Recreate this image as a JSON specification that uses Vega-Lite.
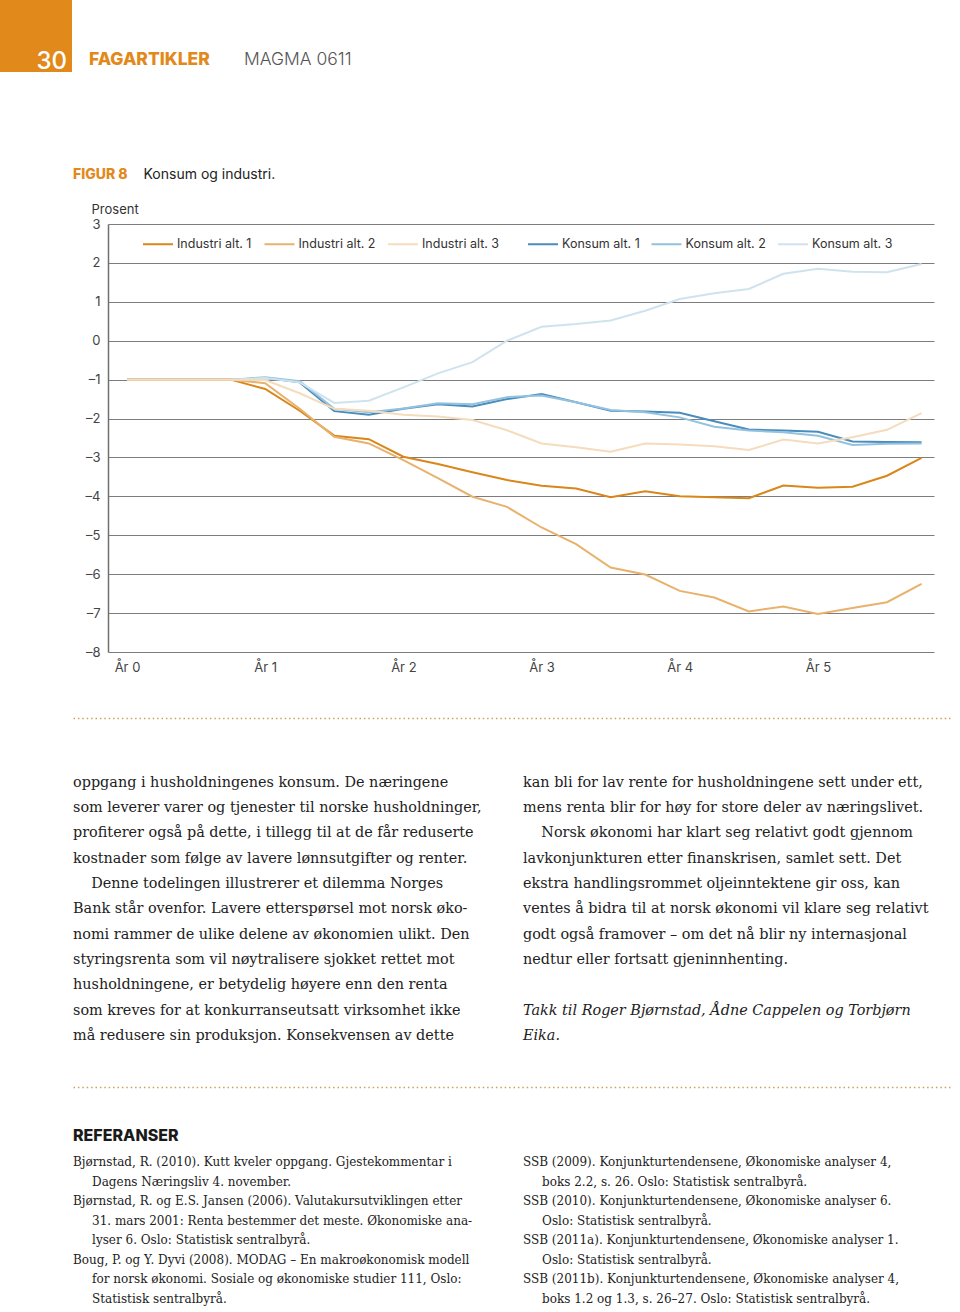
{
  "$schema": "https://vega.github.io/schema/vega-lite/v6.json",
  "padding": 0,
  "background": "white",
  "columns": 1,
  "align": "none",
  "spacing": 0,
  "bounds": "full",
  "config": {"view": {"stroke": null}, "font": "Inter", "concat": {"spacing": 0}},
  "concat": [
    {
      "spacing": 0,
      "hconcat": [
        {
          "width": 72, "height": 72,
          "view": {"fill": "#e2891b", "stroke": null},
          "data": {"values": [{"t": "30"}]},
          "mark": {"type": "text", "align": "center", "baseline": "middle", "dx": 15.7, "dy": 25.7, "font": "Inter", "fontSize": 24, "fontWeight": 500, "color": "#ffffff"},
          "encoding": {"text": {"field": "t"}}
        },
        {
          "width": 888, "height": 167,
          "data": {"values": [{"t": "FAGARTIKLER"}, {"t": "MAGMA 0611"}]},
          "encoding": {
            "x": {"field": "t", "type": "nominal", "scale": {"type": "point", "padding": 0, "domain": ["FAGARTIKLER", "MAGMA 0611"], "range": [17, 172]}, "axis": null},
            "text": {"field": "t"}
          },
          "layer": [
            {"transform": [{"filter": "datum.t == 'FAGARTIKLER'"}], "mark": {"type": "text", "align": "left", "baseline": "middle", "dy": -23.5, "font": "Inter", "fontSize": 17.5, "fontWeight": 800, "color": "#e2891b"}},
            {"transform": [{"filter": "datum.t == 'MAGMA 0611'"}], "mark": {"type": "text", "align": "left", "baseline": "middle", "dy": -23.5, "font": "Inter", "fontSize": 17.5, "fontWeight": 300, "color": "#555555"}}
          ]
        }
      ]
    },
    {
      "spacing": 0,
      "hconcat": [
        {"width": 1, "height": 1, "data": {"values": [{"s": 0}]}, "mark": {"type": "rect", "opacity": 0}, "encoding": {}},
        {
          "width": 826, "height": 428,
          "title": {"text": "FIGUR 8", "anchor": "start", "frame": "group", "dx": -35, "offset": -28.7, "baseline": "bottom", "color": "#e2891b", "font": "Inter", "fontSize": 14, "fontWeight": 800},
          "data": {"values": [
            {"serie": "Industri alt. 1", "aar": 0, "verdi": -1}, {"serie": "Industri alt. 1", "aar": 0.25, "verdi": -1}, {"serie": "Industri alt. 1", "aar": 0.5, "verdi": -1}, {"serie": "Industri alt. 1", "aar": 0.75, "verdi": -1},
            {"serie": "Industri alt. 1", "aar": 1, "verdi": -1.24}, {"serie": "Industri alt. 1", "aar": 1.25, "verdi": -1.8}, {"serie": "Industri alt. 1", "aar": 1.5, "verdi": -2.44}, {"serie": "Industri alt. 1", "aar": 1.75, "verdi": -2.53},
            {"serie": "Industri alt. 1", "aar": 2, "verdi": -2.98}, {"serie": "Industri alt. 1", "aar": 2.25, "verdi": -3.17}, {"serie": "Industri alt. 1", "aar": 2.5, "verdi": -3.38}, {"serie": "Industri alt. 1", "aar": 2.75, "verdi": -3.58},
            {"serie": "Industri alt. 1", "aar": 3, "verdi": -3.73}, {"serie": "Industri alt. 1", "aar": 3.25, "verdi": -3.8}, {"serie": "Industri alt. 1", "aar": 3.5, "verdi": -4.02}, {"serie": "Industri alt. 1", "aar": 3.75, "verdi": -3.87},
            {"serie": "Industri alt. 1", "aar": 4, "verdi": -4.0}, {"serie": "Industri alt. 1", "aar": 4.25, "verdi": -4.02}, {"serie": "Industri alt. 1", "aar": 4.5, "verdi": -4.05}, {"serie": "Industri alt. 1", "aar": 4.75, "verdi": -3.72},
            {"serie": "Industri alt. 1", "aar": 5, "verdi": -3.78}, {"serie": "Industri alt. 1", "aar": 5.25, "verdi": -3.75}, {"serie": "Industri alt. 1", "aar": 5.5, "verdi": -3.47}, {"serie": "Industri alt. 1", "aar": 5.75, "verdi": -3.01},

            {"serie": "Industri alt. 2", "aar": 0, "verdi": -1}, {"serie": "Industri alt. 2", "aar": 0.25, "verdi": -1}, {"serie": "Industri alt. 2", "aar": 0.5, "verdi": -1}, {"serie": "Industri alt. 2", "aar": 0.75, "verdi": -1},
            {"serie": "Industri alt. 2", "aar": 1, "verdi": -1.09}, {"serie": "Industri alt. 2", "aar": 1.25, "verdi": -1.75}, {"serie": "Industri alt. 2", "aar": 1.5, "verdi": -2.47}, {"serie": "Industri alt. 2", "aar": 1.75, "verdi": -2.64},
            {"serie": "Industri alt. 2", "aar": 2, "verdi": -3.07}, {"serie": "Industri alt. 2", "aar": 2.25, "verdi": -3.53}, {"serie": "Industri alt. 2", "aar": 2.5, "verdi": -4.01}, {"serie": "Industri alt. 2", "aar": 2.75, "verdi": -4.27},
            {"serie": "Industri alt. 2", "aar": 3, "verdi": -4.8}, {"serie": "Industri alt. 2", "aar": 3.25, "verdi": -5.23}, {"serie": "Industri alt. 2", "aar": 3.5, "verdi": -5.83}, {"serie": "Industri alt. 2", "aar": 3.75, "verdi": -6.01},
            {"serie": "Industri alt. 2", "aar": 4, "verdi": -6.43}, {"serie": "Industri alt. 2", "aar": 4.25, "verdi": -6.6}, {"serie": "Industri alt. 2", "aar": 4.5, "verdi": -6.96}, {"serie": "Industri alt. 2", "aar": 4.75, "verdi": -6.83},
            {"serie": "Industri alt. 2", "aar": 5, "verdi": -7.02}, {"serie": "Industri alt. 2", "aar": 5.25, "verdi": -6.87}, {"serie": "Industri alt. 2", "aar": 5.5, "verdi": -6.72}, {"serie": "Industri alt. 2", "aar": 5.75, "verdi": -6.25},

            {"serie": "Industri alt. 3", "aar": 0, "verdi": -1}, {"serie": "Industri alt. 3", "aar": 0.25, "verdi": -1}, {"serie": "Industri alt. 3", "aar": 0.5, "verdi": -1}, {"serie": "Industri alt. 3", "aar": 0.75, "verdi": -1},
            {"serie": "Industri alt. 3", "aar": 1, "verdi": -1.01}, {"serie": "Industri alt. 3", "aar": 1.25, "verdi": -1.35}, {"serie": "Industri alt. 3", "aar": 1.5, "verdi": -1.75}, {"serie": "Industri alt. 3", "aar": 1.75, "verdi": -1.8},
            {"serie": "Industri alt. 3", "aar": 2, "verdi": -1.9}, {"serie": "Industri alt. 3", "aar": 2.25, "verdi": -1.95}, {"serie": "Industri alt. 3", "aar": 2.5, "verdi": -2.04}, {"serie": "Industri alt. 3", "aar": 2.75, "verdi": -2.3},
            {"serie": "Industri alt. 3", "aar": 3, "verdi": -2.64}, {"serie": "Industri alt. 3", "aar": 3.25, "verdi": -2.74}, {"serie": "Industri alt. 3", "aar": 3.5, "verdi": -2.85}, {"serie": "Industri alt. 3", "aar": 3.75, "verdi": -2.64},
            {"serie": "Industri alt. 3", "aar": 4, "verdi": -2.67}, {"serie": "Industri alt. 3", "aar": 4.25, "verdi": -2.71}, {"serie": "Industri alt. 3", "aar": 4.5, "verdi": -2.81}, {"serie": "Industri alt. 3", "aar": 4.75, "verdi": -2.54},
            {"serie": "Industri alt. 3", "aar": 5, "verdi": -2.64}, {"serie": "Industri alt. 3", "aar": 5.25, "verdi": -2.48}, {"serie": "Industri alt. 3", "aar": 5.5, "verdi": -2.29}, {"serie": "Industri alt. 3", "aar": 5.75, "verdi": -1.86},

            {"serie": "Konsum alt. 1", "aar": 0, "verdi": -1}, {"serie": "Konsum alt. 1", "aar": 0.25, "verdi": -1}, {"serie": "Konsum alt. 1", "aar": 0.5, "verdi": -1}, {"serie": "Konsum alt. 1", "aar": 0.75, "verdi": -1},
            {"serie": "Konsum alt. 1", "aar": 1, "verdi": -0.96}, {"serie": "Konsum alt. 1", "aar": 1.25, "verdi": -1.07}, {"serie": "Konsum alt. 1", "aar": 1.5, "verdi": -1.81}, {"serie": "Konsum alt. 1", "aar": 1.75, "verdi": -1.9},
            {"serie": "Konsum alt. 1", "aar": 2, "verdi": -1.75}, {"serie": "Konsum alt. 1", "aar": 2.25, "verdi": -1.63}, {"serie": "Konsum alt. 1", "aar": 2.5, "verdi": -1.69}, {"serie": "Konsum alt. 1", "aar": 2.75, "verdi": -1.5},
            {"serie": "Konsum alt. 1", "aar": 3, "verdi": -1.37}, {"serie": "Konsum alt. 1", "aar": 3.25, "verdi": -1.58}, {"serie": "Konsum alt. 1", "aar": 3.5, "verdi": -1.8}, {"serie": "Konsum alt. 1", "aar": 3.75, "verdi": -1.82},
            {"serie": "Konsum alt. 1", "aar": 4, "verdi": -1.85}, {"serie": "Konsum alt. 1", "aar": 4.25, "verdi": -2.07}, {"serie": "Konsum alt. 1", "aar": 4.5, "verdi": -2.28}, {"serie": "Konsum alt. 1", "aar": 4.75, "verdi": -2.31},
            {"serie": "Konsum alt. 1", "aar": 5, "verdi": -2.34}, {"serie": "Konsum alt. 1", "aar": 5.25, "verdi": -2.59}, {"serie": "Konsum alt. 1", "aar": 5.5, "verdi": -2.6}, {"serie": "Konsum alt. 1", "aar": 5.75, "verdi": -2.61},

            {"serie": "Konsum alt. 2", "aar": 0, "verdi": -1}, {"serie": "Konsum alt. 2", "aar": 0.25, "verdi": -1}, {"serie": "Konsum alt. 2", "aar": 0.5, "verdi": -1}, {"serie": "Konsum alt. 2", "aar": 0.75, "verdi": -1},
            {"serie": "Konsum alt. 2", "aar": 1, "verdi": -0.94}, {"serie": "Konsum alt. 2", "aar": 1.25, "verdi": -1.04}, {"serie": "Konsum alt. 2", "aar": 1.5, "verdi": -1.75}, {"serie": "Konsum alt. 2", "aar": 1.75, "verdi": -1.84},
            {"serie": "Konsum alt. 2", "aar": 2, "verdi": -1.74}, {"serie": "Konsum alt. 2", "aar": 2.25, "verdi": -1.61}, {"serie": "Konsum alt. 2", "aar": 2.5, "verdi": -1.63}, {"serie": "Konsum alt. 2", "aar": 2.75, "verdi": -1.45},
            {"serie": "Konsum alt. 2", "aar": 3, "verdi": -1.41}, {"serie": "Konsum alt. 2", "aar": 3.25, "verdi": -1.58}, {"serie": "Konsum alt. 2", "aar": 3.5, "verdi": -1.78}, {"serie": "Konsum alt. 2", "aar": 3.75, "verdi": -1.84},
            {"serie": "Konsum alt. 2", "aar": 4, "verdi": -1.97}, {"serie": "Konsum alt. 2", "aar": 4.25, "verdi": -2.21}, {"serie": "Konsum alt. 2", "aar": 4.5, "verdi": -2.31}, {"serie": "Konsum alt. 2", "aar": 4.75, "verdi": -2.35},
            {"serie": "Konsum alt. 2", "aar": 5, "verdi": -2.44}, {"serie": "Konsum alt. 2", "aar": 5.25, "verdi": -2.68}, {"serie": "Konsum alt. 2", "aar": 5.5, "verdi": -2.65}, {"serie": "Konsum alt. 2", "aar": 5.75, "verdi": -2.64},

            {"serie": "Konsum alt. 3", "aar": 0, "verdi": -1}, {"serie": "Konsum alt. 3", "aar": 0.25, "verdi": -1}, {"serie": "Konsum alt. 3", "aar": 0.5, "verdi": -1}, {"serie": "Konsum alt. 3", "aar": 0.75, "verdi": -1},
            {"serie": "Konsum alt. 3", "aar": 1, "verdi": -0.96}, {"serie": "Konsum alt. 3", "aar": 1.25, "verdi": -1.07}, {"serie": "Konsum alt. 3", "aar": 1.5, "verdi": -1.6}, {"serie": "Konsum alt. 3", "aar": 1.75, "verdi": -1.54},
            {"serie": "Konsum alt. 3", "aar": 2, "verdi": -1.2}, {"serie": "Konsum alt. 3", "aar": 2.25, "verdi": -0.84}, {"serie": "Konsum alt. 3", "aar": 2.5, "verdi": -0.55}, {"serie": "Konsum alt. 3", "aar": 2.75, "verdi": 0},
            {"serie": "Konsum alt. 3", "aar": 3, "verdi": 0.36}, {"serie": "Konsum alt. 3", "aar": 3.25, "verdi": 0.43}, {"serie": "Konsum alt. 3", "aar": 3.5, "verdi": 0.52}, {"serie": "Konsum alt. 3", "aar": 3.75, "verdi": 0.77},
            {"serie": "Konsum alt. 3", "aar": 4, "verdi": 1.07}, {"serie": "Konsum alt. 3", "aar": 4.25, "verdi": 1.22}, {"serie": "Konsum alt. 3", "aar": 4.5, "verdi": 1.33}, {"serie": "Konsum alt. 3", "aar": 4.75, "verdi": 1.72},
            {"serie": "Konsum alt. 3", "aar": 5, "verdi": 1.85}, {"serie": "Konsum alt. 3", "aar": 5.25, "verdi": 1.77}, {"serie": "Konsum alt. 3", "aar": 5.5, "verdi": 1.76}, {"serie": "Konsum alt. 3", "aar": 5.75, "verdi": 1.97}
          ]},
          "encoding": {
            "x": {
              "field": "aar", "type": "quantitative",
              "scale": {"domain": [-0.1375, 5.84], "nice": false, "zero": false},
              "axis": {
                "values": [0, 1, 2, 3, 4, 5], "labelExpr": "'År ' + datum.value", "labelFlush": false,
                "grid": false, "domain": false, "ticks": false, "labelPadding": 9,
                "labelFont": "Inter", "labelFontSize": 13, "labelColor": "#444444",
                "title": "Konsum og industri.", "titleX": 35, "titleY": -477.3, "titleAlign": "left", "titleBaseline": "middle",
                "titleFont": "Inter", "titleFontSize": 14, "titleFontWeight": "normal", "titleColor": "#222222",
                "minExtent": 66, "maxExtent": 66
              }
            },
            "y": {
              "field": "verdi", "type": "quantitative",
              "scale": {"domain": [-8, 3], "nice": false, "zero": false},
              "axis": {
                "values": [-8, -7, -6, -5, -4, -3, -2, -1, 0, 1, 2, 3],
                "labelExpr": "datum.value < 0 ? '–' + abs(datum.value) : '' + datum.value",
                "grid": true, "gridColor": "#7d7d7d", "gridWidth": 1.1,
                "domain": true, "domainColor": "#6f6f6f", "domainWidth": 1.5,
                "ticks": false, "labelPadding": 8, "labelFont": "Inter", "labelFontSize": 13, "labelColor": "#444444",
                "title": "Prosent", "titleAngle": 0, "titleAlign": "left", "titleBaseline": "middle", "titleX": -17, "titleY": -15,
                "titleFont": "Inter", "titleFontSize": 13, "titleFontWeight": "normal", "titleColor": "#333333",
                "minExtent": 107, "maxExtent": 107
              }
            }
          },
          "layer": [
            {
              "transform": [{"filter": "indexof(datum.serie, 'Konsum') == 0"}],
              "mark": {"type": "line", "strokeWidth": 2},
              "encoding": {
                "color": {
                  "field": "serie", "type": "nominal",
                  "scale": {"domain": ["Konsum alt. 1", "Konsum alt. 2", "Konsum alt. 3"], "range": ["#4a8dbd", "#93c2de", "#cfe3ef"]},
                  "legend": {"orient": "none", "legendX": 419, "legendY": 4, "direction": "horizontal", "title": null, "symbolType": "stroke", "symbolSize": 900, "symbolStrokeWidth": 2, "labelFont": "Inter", "labelFontSize": 12.5, "labelColor": "#333333", "labelOffset": 3, "columnPadding": 7.5, "padding": 0}
                }
              }
            },
            {
              "transform": [{"filter": "indexof(datum.serie, 'Industri') == 0"}],
              "mark": {"type": "line", "strokeWidth": 2},
              "encoding": {
                "color": {
                  "field": "serie", "type": "nominal",
                  "scale": {"domain": ["Industri alt. 3", "Industri alt. 2", "Industri alt. 1"], "range": ["#f4dcbc", "#e8b26c", "#d9861a"]},
                  "legend": {"orient": "none", "legendX": 34, "legendY": 4, "direction": "horizontal", "title": null, "symbolType": "stroke", "symbolSize": 900, "symbolStrokeWidth": 2, "labelFont": "Inter", "labelFontSize": 12.5, "labelColor": "#333333", "labelOffset": 3, "columnPadding": 8.5, "padding": 0, "values": ["Industri alt. 1", "Industri alt. 2", "Industri alt. 3"]}
                }
              }
            }
          ],
          "resolve": {"scale": {"color": "independent"}}
        }
      ]
    },
    {
      "spacing": 0,
      "hconcat": [
        {"width": 1, "height": 1, "data": {"values": [{"s": 0}]}, "mark": {"type": "rect", "opacity": 0}, "encoding": {}},
        {
          "width": 877, "height": 369,
          "data": {"values": [
            {"kol": 0, "linje": 1, "del": "brødtekst", "tekst": "oppgang i husholdningenes konsum. De næringene"},
            {"kol": 0, "linje": 2, "del": "brødtekst", "tekst": "som leverer varer og tjenester til norske husholdninger,"},
            {"kol": 0, "linje": 3, "del": "brødtekst", "tekst": "profiterer også på dette, i tillegg til at de får reduserte"},
            {"kol": 0, "linje": 4, "del": "brødtekst", "tekst": "kostnader som følge av lavere lønnsutgifter og renter."},
            {"kol": 0, "linje": 5, "del": "brødtekst", "tekst": "\u200b\u00a0\u00a0\u00a0\u00a0Denne todelingen illustrerer et dilemma Norges"},
            {"kol": 0, "linje": 6, "del": "brødtekst", "tekst": "Bank står ovenfor. Lavere etterspørsel mot norsk øko-"},
            {"kol": 0, "linje": 7, "del": "brødtekst", "tekst": "nomi rammer de ulike delene av økonomien ulikt. Den"},
            {"kol": 0, "linje": 8, "del": "brødtekst", "tekst": "styringsrenta som vil nøytralisere sjokket rettet mot"},
            {"kol": 0, "linje": 9, "del": "brødtekst", "tekst": "husholdningene, er betydelig høyere enn den renta"},
            {"kol": 0, "linje": 10, "del": "brødtekst", "tekst": "som kreves for at konkurranseutsatt virksomhet ikke"},
            {"kol": 0, "linje": 11, "del": "brødtekst", "tekst": "må redusere sin produksjon. Konsekvensen av dette"},
            {"kol": 1, "linje": 1, "del": "brødtekst", "tekst": "kan bli for lav rente for husholdningene sett under ett,"},
            {"kol": 1, "linje": 2, "del": "brødtekst", "tekst": "mens renta blir for høy for store deler av næringslivet."},
            {"kol": 1, "linje": 3, "del": "brødtekst", "tekst": "\u200b\u00a0\u00a0\u00a0\u00a0Norsk økonomi har klart seg relativt godt gjennom"},
            {"kol": 1, "linje": 4, "del": "brødtekst", "tekst": "lavkonjunkturen etter finanskrisen, samlet sett. Det"},
            {"kol": 1, "linje": 5, "del": "brødtekst", "tekst": "ekstra handlingsrommet oljeinntektene gir oss, kan"},
            {"kol": 1, "linje": 6, "del": "brødtekst", "tekst": "ventes å bidra til at norsk økonomi vil klare seg relativt"},
            {"kol": 1, "linje": 7, "del": "brødtekst", "tekst": "godt også framover – om det nå blir ny internasjonal"},
            {"kol": 1, "linje": 8, "del": "brødtekst", "tekst": "nedtur eller fortsatt gjeninnhenting."},
            {"kol": 1, "linje": 10, "del": "takk", "tekst": "Takk til Roger Bjørnstad, Ådne Cappelen og Torbjørn"},
            {"kol": 1, "linje": 11, "del": "takk", "tekst": "Eika."}
          ]},
          "encoding": {
            "x": {"field": "kol", "type": "quantitative", "scale": {"domain": [0, 1.9489], "nice": false, "zero": false},
                  "axis": {"orient": "top", "domain": true, "domainDash": [1.5, 2.9], "domainColor": "#c9a25a", "domainWidth": 1.6, "labels": false, "ticks": false, "grid": false, "title": null}},
            "y": {"field": "linje", "type": "quantitative", "scale": {"domain": [-1.565, 13.02], "reverse": true, "nice": false, "zero": false},
                  "axis": {"labels": false, "ticks": false, "domain": false, "grid": false, "title": null, "minExtent": 72, "maxExtent": 72}},
            "text": {"field": "tekst"}
          },
          "layer": [
            {"transform": [{"filter": "datum.del == 'brødtekst'"}], "mark": {"type": "text", "align": "left", "baseline": "middle", "font": "DejaVu Serif", "fontSize": 14.4, "color": "#222222"}},
            {"transform": [{"filter": "datum.del == 'takk'"}], "mark": {"type": "text", "align": "left", "baseline": "middle", "font": "DejaVu Serif", "fontSize": 14.4, "fontStyle": "italic", "color": "#222222"}}
          ]
        }
      ]
    },
    {
      "spacing": 0,
      "hconcat": [
        {"width": 1, "height": 1, "data": {"values": [{"s": 0}]}, "mark": {"type": "rect", "opacity": 0}, "encoding": {}},
        {
          "width": 877, "height": 223,
          "data": {"values": [
            {"kol": 0, "linje": 0, "del": "overskrift", "tekst": "REFERANSER"},
            {"kol": 0, "linje": 1, "del": "referanse", "tekst": "Bjørnstad, R. (2010). Kutt kveler oppgang. Gjestekommentar i"},
            {"kol": 0, "linje": 2, "del": "referanse", "tekst": "\u200b\u00a0\u00a0\u00a0\u00a0\u00a0Dagens Næringsliv 4. november."},
            {"kol": 0, "linje": 3, "del": "referanse", "tekst": "Bjørnstad, R. og E.S. Jansen (2006). Valutakursutviklingen etter"},
            {"kol": 0, "linje": 4, "del": "referanse", "tekst": "\u200b\u00a0\u00a0\u00a0\u00a0\u00a031. mars 2001: Renta bestemmer det meste. Økonomiske ana-"},
            {"kol": 0, "linje": 5, "del": "referanse", "tekst": "\u200b\u00a0\u00a0\u00a0\u00a0\u00a0lyser 6. Oslo: Statistisk sentralbyrå."},
            {"kol": 0, "linje": 6, "del": "referanse", "tekst": "Boug, P. og Y. Dyvi (2008). MODAG – En makroøkonomisk modell"},
            {"kol": 0, "linje": 7, "del": "referanse", "tekst": "\u200b\u00a0\u00a0\u00a0\u00a0\u00a0for norsk økonomi. Sosiale og økonomiske studier 111, Oslo:"},
            {"kol": 0, "linje": 8, "del": "referanse", "tekst": "\u200b\u00a0\u00a0\u00a0\u00a0\u00a0Statistisk sentralbyrå."},
            {"kol": 1, "linje": 1, "del": "referanse", "tekst": "SSB (2009). Konjunkturtendensene, Økonomiske analyser 4,"},
            {"kol": 1, "linje": 2, "del": "referanse", "tekst": "\u200b\u00a0\u00a0\u00a0\u00a0\u00a0boks 2.2, s. 26. Oslo: Statistisk sentralbyrå."},
            {"kol": 1, "linje": 3, "del": "referanse", "tekst": "SSB (2010). Konjunkturtendensene, Økonomiske analyser 6."},
            {"kol": 1, "linje": 4, "del": "referanse", "tekst": "\u200b\u00a0\u00a0\u00a0\u00a0\u00a0Oslo: Statistisk sentralbyrå."},
            {"kol": 1, "linje": 5, "del": "referanse", "tekst": "SSB (2011a). Konjunkturtendensene, Økonomiske analyser 1."},
            {"kol": 1, "linje": 6, "del": "referanse", "tekst": "\u200b\u00a0\u00a0\u00a0\u00a0\u00a0Oslo: Statistisk sentralbyrå."},
            {"kol": 1, "linje": 7, "del": "referanse", "tekst": "SSB (2011b). Konjunkturtendensene, Økonomiske analyser 4,"},
            {"kol": 1, "linje": 8, "del": "referanse", "tekst": "\u200b\u00a0\u00a0\u00a0\u00a0\u00a0boks 1.2 og 1.3, s. 26–27. Oslo: Statistisk sentralbyrå."}
          ]},
          "encoding": {
            "x": {"field": "kol", "type": "quantitative", "scale": {"domain": [0, 1.9489], "nice": false, "zero": false},
                  "axis": {"orient": "top", "domain": true, "domainDash": [1.5, 2.9], "domainColor": "#c9a25a", "domainWidth": 1.6, "labels": false, "ticks": false, "grid": false, "title": null}},
            "y": {"field": "linje", "type": "quantitative", "scale": {"domain": [-2.862, 8.574], "reverse": true, "nice": false, "zero": false},
                  "axis": {"labels": false, "ticks": false, "domain": false, "grid": false, "title": null, "minExtent": 72, "maxExtent": 72}},
            "text": {"field": "tekst"}
          },
          "layer": [
            {"transform": [{"filter": "datum.del == 'overskrift'"}], "mark": {"type": "text", "align": "left", "baseline": "middle", "dy": -6.5, "font": "Inter", "fontSize": 16, "fontWeight": 800, "color": "#1a1a1a"}},
            {"transform": [{"filter": "datum.del == 'referanse'"}], "mark": {"type": "text", "align": "left", "baseline": "middle", "font": "DejaVu Serif", "fontSize": 12, "color": "#222222"}}
          ]
        }
      ]
    }
  ]
}
